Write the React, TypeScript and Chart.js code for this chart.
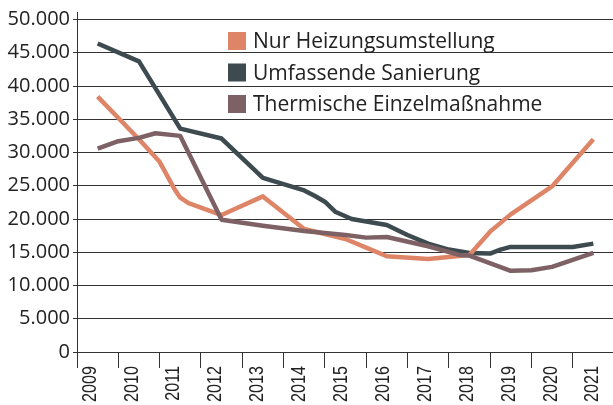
import { useEffect, useRef } from 'react';
import { Chart, registerables } from 'chart.js';

Chart.register(...registerables);

// x-axis category labels
const yearLabels = ['2009', '2010', '2011', '2012', '2013', '2014', '2015', '2016', '2017', '2018', '2019', '2020', '2021'];

// y-axis ticks
const yTicks = [0, 5000, 10000, 15000, 20000, 25000, 30000, 35000, 40000, 45000, 50000];

// Series: Nur Heizungsumstellung
const heizungYears = [2009, 2010, 2010.5, 2010.85, 2011, 2011.2, 2012, 2013, 2014, 2015, 2015.5, 2016, 2017, 2018, 2018.5, 2019, 2020, 2021];
const heizungValues = [38400, 32000, 28600, 24600, 23200, 22400, 20600, 23400, 18500, 17000, 15700, 14400, 14000, 14600, 18100, 20700, 24900, 32000];

// Series: Umfassende Sanierung
const umfassendYears = [2009, 2010, 2011, 2012, 2013, 2014, 2014.25, 2014.5, 2014.75, 2015.15, 2016, 2016.5, 2017, 2017.5, 2018, 2018.5, 2018.75, 2019, 2020.5, 2021];
const umfassendValues = [46400, 43700, 33600, 32100, 26200, 24300, 23500, 22600, 21100, 20000, 19100, 17600, 16300, 15400, 14900, 14800, 15400, 15800, 15800, 16300];

// Series: Thermische Einzelmaßnahme
const thermischYears = [2009, 2009.5, 2010, 2010.4, 2011, 2012, 2013, 2014, 2015, 2015.5, 2016, 2017, 2017.75, 2018, 2019, 2019.5, 2020, 2021];
const thermischValues = [30600, 31700, 32200, 32900, 32500, 19900, 19000, 18200, 17600, 17200, 17300, 15900, 14600, 14500, 12200, 12300, 12800, 14900];

const seriesLabels = ['Nur Heizungsumstellung', 'Umfassende Sanierung', 'Thermische Einzelmaßnahme'];

const ORANGE = '#DE8467';
const DARK = '#3D4B50';
const MAUVE = '#7E6164';
const AXIS = '#333333';
const TEXT = '#222222';

const fmt = (v: number) => String(Math.round(v)).replace(/\B(?=(\d{3})+(?!\d))/g, '.');

const toPoints = (xs: number[], ys: number[]) => xs.map((x, i) => ({ x, y: ys[i] }));

const insideLegend = {
  id: 'insideLegend',
  afterDatasetsDraw(chart: any) {
    const { ctx, chartArea } = chart;
    ctx.save();
    ctx.font = '21px "Open Sans", "Noto Sans", sans-serif';
    ctx.textBaseline = 'alphabetic';
    ctx.textAlign = 'left';
    chart.data.datasets.forEach((ds: any, i: number) => {
      const top = chartArea.top + 20 + i * 31.5;
      const left = chartArea.left + 151;
      ctx.fillStyle = ds.borderColor;
      ctx.fillRect(left, top, 18, 18);
      ctx.fillStyle = TEXT;
      ctx.fillText(ds.label, left + 25, top + 16);
    });
    ctx.restore();
  },
};

// Draws the category axis labels (narrow, rotated) at the x scale's tick positions
const yearLabelPlugin = {
  id: 'yearLabelPlugin',
  afterDraw(chart: any) {
    const scale = chart.scales.x;
    const { ctx } = chart;
    const n = scale.ticks.length;
    const first = scale.getPixelForTick(0) - 7.8;
    const last = scale.getPixelForTick(n - 1) - 0.7;
    ctx.save();
    ctx.font = '21px "Liberation Sans", Arial, sans-serif';
    ctx.fillStyle = TEXT;
    ctx.textAlign = 'right';
    ctx.textBaseline = 'middle';
    scale.ticks.forEach((t: any, i: number) => {
      const x = first + ((last - first) * i) / (n - 1);
      ctx.save();
      ctx.translate(x, scale.top + 14);
      ctx.rotate(-Math.PI / 2);
      ctx.scale(0.77, 1);
      ctx.fillText(String(scale.getLabelForValue(t.value)), 0, 0);
      ctx.restore();
    });
    ctx.restore();
  },
};

export default function App() {
  const ref = useRef<HTMLCanvasElement>(null);

  useEffect(() => {
    document.body.style.margin = '0';
    const lineStyle = {
      borderWidth: 4.5,
      pointRadius: 0,
      pointHoverRadius: 0,
      tension: 0,
      borderJoinStyle: 'round' as const,
      xAxisID: 'xData',
      yAxisID: 'y',
    };
    const chart = new Chart(ref.current as HTMLCanvasElement, {
      type: 'line',
      data: {
        labels: yearLabels,
        datasets: [
          { ...lineStyle, label: seriesLabels[0], data: toPoints(heizungYears, heizungValues), borderColor: ORANGE, backgroundColor: ORANGE, order: 1 },
          { ...lineStyle, label: seriesLabels[1], data: toPoints(umfassendYears, umfassendValues), borderColor: DARK, backgroundColor: DARK, order: 2 },
          { ...lineStyle, label: seriesLabels[2], data: toPoints(thermischYears, thermischValues), borderColor: MAUVE, backgroundColor: MAUVE, order: 0 },
        ],
      },
      options: {
        animation: false,
        responsive: false,
        layout: { padding: 0 },
        plugins: { legend: { display: false }, tooltip: { enabled: false } },
        scales: {
          x: {
            type: 'category',
            offset: true,
            grid: { offset: true, drawOnChartArea: false, drawTicks: true, tickLength: 16, color: AXIS, lineWidth: 1 },
            border: { display: true, color: AXIS, width: 1 },
            ticks: { display: false, autoSkip: false },
            afterFit: (s: any) => { s.height = 53; },
          },
          xData: { type: 'linear', display: false, min: 2008.5, max: 2021.5 },
          y: {
            min: 0,
            max: 51130,
            afterBuildTicks: (s: any) => { s.ticks = yTicks.map((v) => ({ value: v })); },
            ticks: {
              padding: 3,
              color: TEXT,
              font: { family: '"Open Sans", "Noto Sans", sans-serif', size: 20, lineHeight: 0.9 },
              callback: (v: any) => fmt(Number(v)),
            },
            grid: { color: AXIS, lineWidth: 1, tickLength: 4 },
            border: { display: true, color: AXIS, width: 1 },
            afterFit: (s: any) => { s.width = 77; },
          },
        },
      },
      plugins: [insideLegend, yearLabelPlugin],
    });
    return () => chart.destroy();
  }, []);

  return (
    <div style={{ position: 'absolute', left: 0, top: 0, width: 613, height: 405, overflow: 'hidden', background: '#fff' }}>
      <canvas ref={ref} width={614} height={405} style={{ display: 'block' }} />
    </div>
  );
}
